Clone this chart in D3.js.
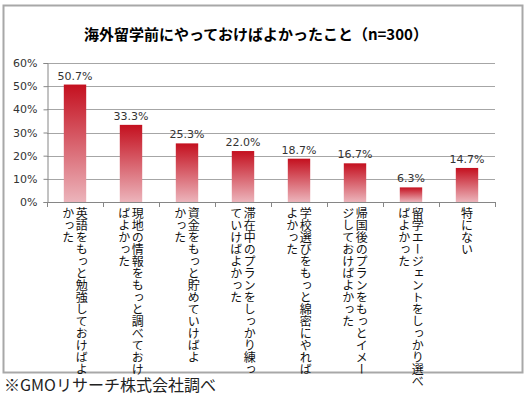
<!DOCTYPE html>
<html lang="ja">
<head>
<meta charset="UTF-8">
<title>海外留学前にやっておけばよかったこと</title>
<style>
    body { margin: 0; background: #fff; }
    .title { font-family: "Noto Sans CJK JP", sans-serif; font-weight: bold; font-size: 15px; }
    .tick text { font-family: "DejaVu Sans", sans-serif; font-size: 11px; fill: #333; }
    .valueLabel { font-family: "DejaVu Sans", sans-serif; font-size: 11px; fill: #333; }
    .catLabel { font-family: "Noto Sans CJK JP", sans-serif; font-size: 12px; fill: #111; writing-mode: vertical-rl; }
    .source { font-family: "Noto Sans CJK JP", sans-serif; font-size: 16px; fill: #222; }
</style>
<script src="https://d3js.org/d3.v7.min.js"></script>
</head>
<body>
<script>
    // data
    const categories = [
        ["英語をもっと勉強しておけばよ", "かった"],
        ["現地の情報をもっと調べておけ", "ばよかった"],
        ["資金をもっと貯めていけばよ", "かった"],
        ["滞在中のプランをしっかり練っ", "ていけばよかった"],
        ["学校選びをもっと綿密にやれば", "よかった"],
        ["帰国後のプランをもっとイメー", "ジしておけばよかった"],
        ["留学エージェントをしっかり選べ", "ばよかった"],
        ["特にない"]
    ];
    const values = [50.7, 33.3, 25.3, 22.0, 18.7, 16.7, 6.3, 14.7];
    const yTicks = [0, 10, 20, 30, 40, 50, 60];
    const titleText = "海外留学前にやっておけばよかったこと（n=300）";
    const sourceText = "※GMOリサーチ株式会社調べ";

    const width = 531, height = 397;
    const plot = {left: 47, right: 495, top: 63, bottom: 202};

    const svg = d3.select("body").append("svg")
        .attr("width", width)
        .attr("height", height);

    // per-bar gradient, dark red on top fading to pink
    const grad = svg.append("defs").append("linearGradient")
        .attr("id", "barGrad")
        .attr("x1", 0).attr("y1", 0).attr("x2", 0).attr("y2", 1);
    grad.append("stop").attr("offset", "0%").attr("stop-color", "#c4101f");
    grad.append("stop").attr("offset", "100%").attr("stop-color", "#ecb4bb");

    // outer frame
    svg.append("rect")
        .attr("x", 3.5).attr("y", 5.5)
        .attr("width", 519).attr("height", 367)
        .attr("fill", "#fff")
        .attr("stroke", "#a8a8a8")
        .attr("stroke-width", 2);

    svg.append("text")
        .attr("class", "title")
        .attr("x", 256).attr("y", 40)
        .attr("text-anchor", "middle")
        .text(titleText);

    const x = d3.scaleBand()
        .domain(d3.range(categories.length))
        .range([plot.left, plot.right])
        .paddingInner(0.6)
        .paddingOuter(0.3);

    const y = d3.scaleLinear()
        .domain([0, 60])
        .range([plot.bottom, plot.top]);

    // gridlines
    svg.append("g")
        .selectAll("line")
        .data(yTicks.slice(1))
        .join("line")
        .attr("x1", plot.left).attr("x2", plot.right)
        .attr("y1", d => Math.round(y(d)) + 0.5)
        .attr("y2", d => Math.round(y(d)) + 0.5)
        .attr("stroke", "#a6a6a6");

    // y axis
    const yAxis = svg.append("g")
        .attr("transform", `translate(${plot.left + 0.5},0)`)
        .call(d3.axisLeft(y).tickValues(yTicks).tickSize(4).tickPadding(6).tickFormat(d => d + "%"));
    yAxis.select(".domain").attr("stroke", "#868686");
    yAxis.selectAll(".tick line").attr("stroke", "#868686");

    // bars
    svg.append("g")
        .selectAll("rect")
        .data(values)
        .join("rect")
        .attr("x", (d, i) => x(i))
        .attr("y", d => y(d))
        .attr("width", x.bandwidth())
        .attr("height", d => y(0) - y(d))
        .attr("fill", "url(#barGrad)");

    // value labels
    svg.append("g")
        .selectAll("text")
        .data(values)
        .join("text")
        .attr("class", "valueLabel")
        .attr("x", (d, i) => x(i) + x.bandwidth() / 2)
        .attr("y", d => y(d) - 5)
        .attr("text-anchor", "middle")
        .text(d => d.toFixed(1) + "%");

    // x axis line with ticks between categories
    const step = x.step();
    const xLine = svg.append("g");
    xLine.append("line")
        .attr("x1", plot.left).attr("x2", plot.right)
        .attr("y1", plot.bottom + 0.5).attr("y2", plot.bottom + 0.5)
        .attr("stroke", "#868686");
    xLine.selectAll(".xt")
        .data(d3.range(categories.length + 1))
        .join("line")
        .attr("class", "xt")
        .attr("x1", i => Math.round(plot.left + i * step) + 0.5)
        .attr("x2", i => Math.round(plot.left + i * step) + 0.5)
        .attr("y1", plot.bottom).attr("y2", plot.bottom + 5)
        .attr("stroke", "#868686");

    // vertical category labels, first line on the right
    const colGap = 13.5;
    categories.forEach((lines, i) => {
        const cx = x(i) + x.bandwidth() / 2;
        lines.forEach((line, j) => {
            svg.append("text")
                .attr("class", "catLabel")
                .attr("x", cx + ((lines.length - 1) / 2 - j) * colGap)
                .attr("y", 207)
                .text(line);
        });
    });

    svg.append("text")
        .attr("class", "source")
        .attr("x", 4).attr("y", 391)
        .text(sourceText);
</script>
</body>
</html>
